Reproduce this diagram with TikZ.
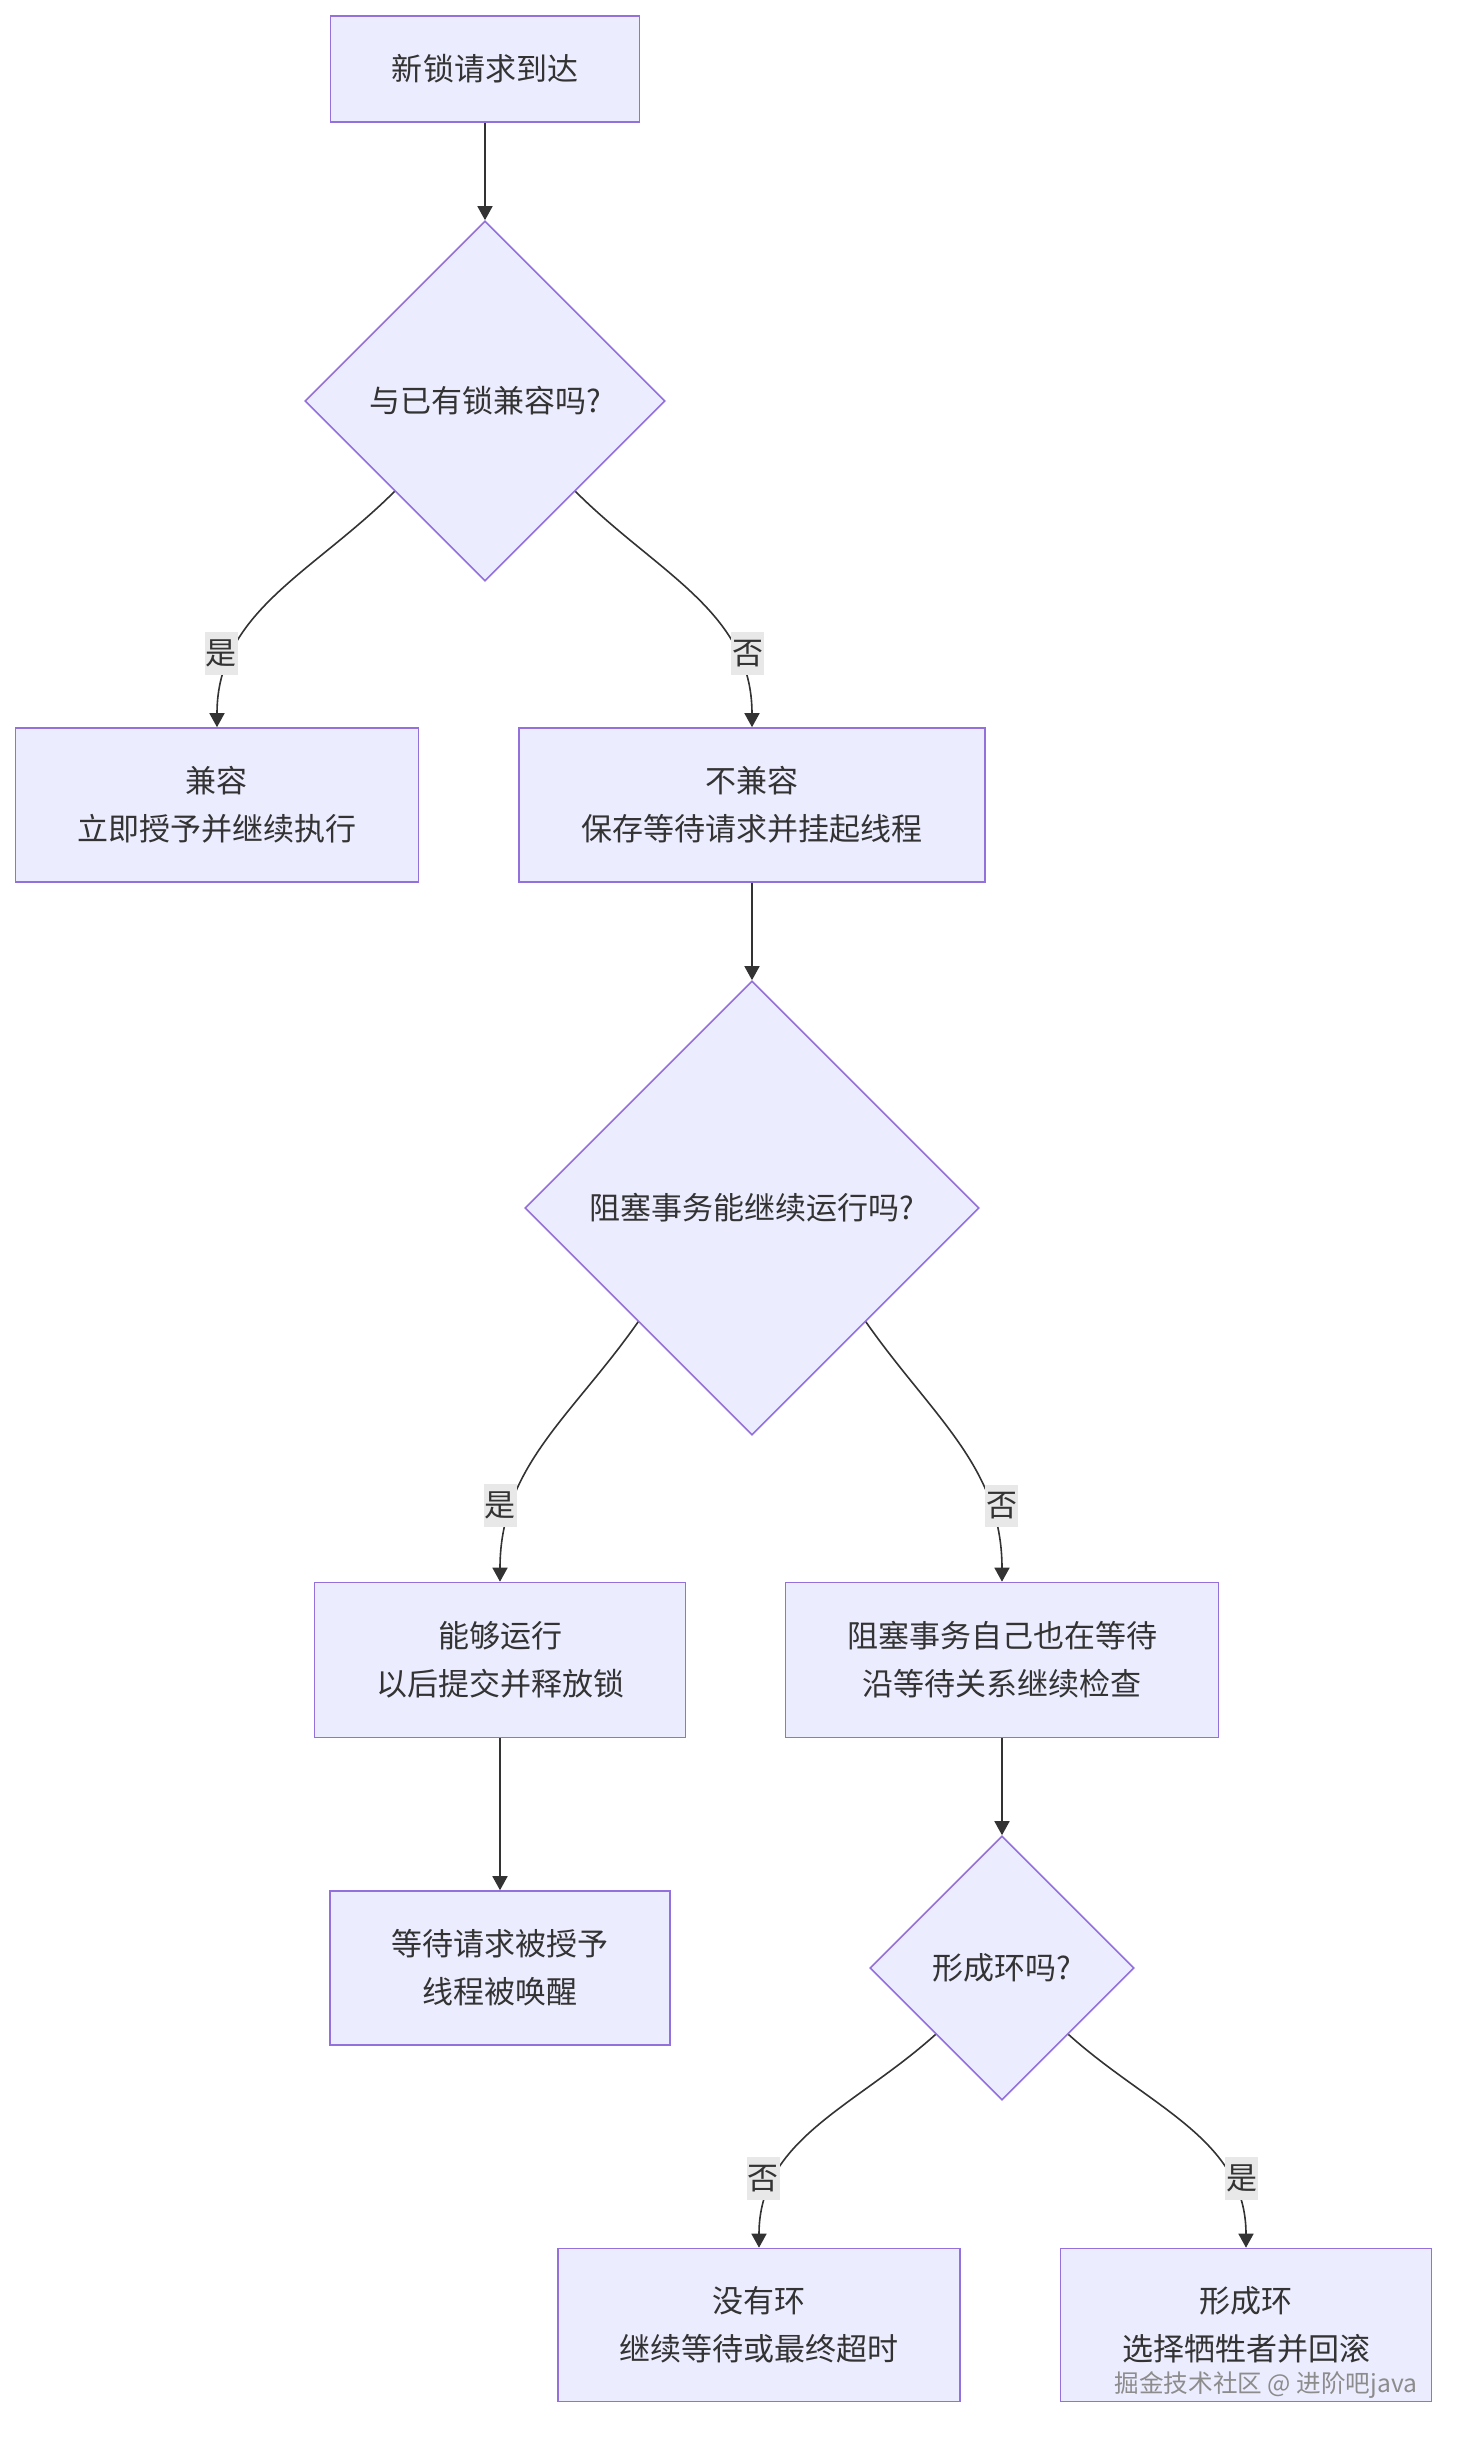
\documentclass[tikz,border=0pt]{standalone}
\usepackage{fontspec}
\usepackage{tikz}
\usetikzlibrary{shapes.geometric,arrows.meta}
\setmainfont{Noto Sans CJK SC}
\definecolor{nodefill}{HTML}{ECECFF}
\definecolor{nodeline}{HTML}{9370DB}
\definecolor{textgray}{HTML}{333333}
\definecolor{labelfill}{HTML}{E8E8E8}
\definecolor{markgray}{HTML}{8C8C8C}

\begin{document}
\begin{tikzpicture}[
		node distance=0pt,
		>={Triangle[length=7pt,width=7.5pt]},
		procbox/.style={rectangle,draw=nodeline,fill=nodefill,line width=0.8pt,
			align=center,text=textgray,inner sep=0pt,
			font=\fontsize{15.5pt}{24pt}\selectfont},
		decision/.style={diamond,aspect=1,draw=nodeline,fill=nodefill,line width=0.8pt,
			text=textgray,inner sep=0pt,font=\fontsize{15.5pt}{24pt}\selectfont},
		edgelabel/.style={fill=labelfill,text=textgray,inner xsep=0.5pt,inner ysep=4pt,
			font=\fontsize{15.5pt}{18pt}\selectfont},
		flow/.style={draw=textgray,line width=0.8pt}
		]
		\useasboundingbox (-242.5pt,34.5pt) rectangle (489.5pt,-1187.5pt);
			
		\node[procbox, minimum width=154.5pt, minimum height=53pt](S0){新锁请求到达};
		\node[decision, minimum size=180pt, below of = S0, yshift = -166pt](S1){与已有锁兼容吗?};
		\draw[flow,->] (S0) -- (S1);
		\node[procbox, minimum width=201.5pt, minimum height=77pt, below of = S1,
		xshift = -134pt, yshift = -202pt](S2){兼容\\立即授予并继续执行};
		\draw[flow,->] (S1.south west) to[out=225, in=90] node [edgelabel, pos=0.75,
		xshift = -6pt]{是} (S2.north);
		\node[procbox, minimum width=233pt, minimum height=77pt, below of = S1,
		xshift = 133.5pt, yshift = -202pt](S3){不兼容\\保存等待请求并挂起线程};
		\draw[flow,->] (S1.south east) to[out=-45, in=90] node [edgelabel, pos=0.75,
		xshift = 6pt]{否} (S3.north);
		\node[decision, minimum size=227pt, below of = S3, yshift = -201.5pt](S4){阻塞事务能继续运行吗?};
		\draw[flow,->] (S3) -- (S4);
		\node[procbox, minimum width=185.5pt, minimum height=77.5pt, below of = S4,
		xshift = -126pt, yshift = -226pt](S5){能够运行\\以后提交并释放锁};
		\draw[flow,->] (S4.south west) to[out=235, in=90] node [edgelabel, pos=0.75,
		xshift = -6pt]{是} (S5.north);
		\node[procbox, minimum width=216.5pt, minimum height=77.5pt, below of = S4,
		xshift = 125pt, yshift = -226pt](S6){阻塞事务自己也在等待\\沿等待关系继续检查};
		\draw[flow,->] (S4.south east) to[out=-55, in=90] node [edgelabel, pos=0.75,
		xshift = 6pt]{否} (S6.north);
		\node[procbox, minimum width=170pt, minimum height=77pt, below of = S5,
		yshift = -154pt](S7){等待请求被授予\\线程被唤醒};
		\draw[flow,->] (S5) -- (S7);
		\node[decision, minimum size=132pt, below of = S6, yshift = -154pt](S8){形成环吗?};
		\draw[flow,->] (S6) -- (S8);
		\node[procbox, minimum width=201pt, minimum height=76.5pt, below of = S8,
		xshift = -121.5pt, yshift = -178.5pt](S9){没有环\\继续等待或最终超时};
		\draw[flow,->] (S8.south west) to[out=222, in=90] node [edgelabel, pos=0.75,
		xshift = -6pt]{否} (S9.north);
		\node[procbox, minimum width=185.5pt, minimum height=76.5pt, below of = S8,
		xshift = 122pt, yshift = -178.5pt](S10){形成环\\选择牺牲者并回滚};
		\draw[flow,->] (S8.south east) to[out=-42, in=90] node [edgelabel, pos=0.75,
		xshift = 6pt]{是} (S10.north);
		\node[text=markgray, font=\fontsize{12.3pt}{14pt}\selectfont, below of = S10,
		xshift = 10pt, yshift = -30pt](WM){掘金技术社区 @ 进阶吧java};
	\end{tikzpicture}
\end{document}
